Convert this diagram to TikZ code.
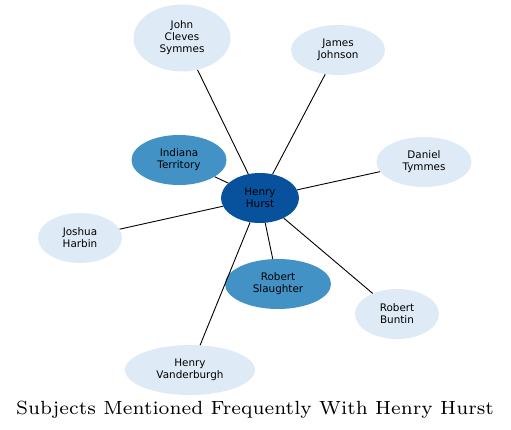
\documentclass[tikz,border=0pt]{standalone}
\usepackage{fontspec}
\newfontfamily\dejavu{DejaVu Sans}
\usetikzlibrary{shapes.geometric}
\definecolor{lightblue}{HTML}{DEEBF7}
\definecolor{midblue}{HTML}{4292C6}
\definecolor{darkblue}{HTML}{08519C}
\tikzset{
  ent/.style={ellipse, inner sep=0pt, align=center, font=\dejavu\fontsize{10.4}{12}\selectfont, text=black},
  light/.style={ent, fill=lightblue},
  mid/.style={ent, fill=midblue},
  dark/.style={ent, fill=darkblue},
  link/.style={draw=black, line width=0.9pt}
}
\begin{document}
\begin{tikzpicture}[x=1pt,y=-1pt]
\useasboundingbox (0,0) rectangle (511,430);
\node[dark, minimum width=78, minimum height=50] (hh) at (260,198) {Henry\\Hurst};
\node[light, minimum width=97, minimum height=67] (jcs) at (182,38) {John\\Cleves\\Symmes};
\node[light, minimum width=94, minimum height=50] (jj) at (338,50) {James\\Johnson};
\node[mid, minimum width=95, minimum height=50] (it) at (179,160) {Indiana\\Territory};
\node[light, minimum width=95, minimum height=50] (dt) at (424,162) {Daniel\\Tymmes};
\node[light, minimum width=84, minimum height=50] (jh) at (80,238) {Joshua\\Harbin};
\node[mid, minimum width=106, minimum height=50] (rs) at (278,284) {Robert\\Slaughter};
\node[light, minimum width=84, minimum height=50] (rb) at (397,314) {Robert\\Buntin};
\node[light, minimum width=130, minimum height=50] (hv) at (190,370) {Henry\\Vanderburgh};
\foreach \t in {jcs,jj,it,dt,jh,rs,rb,hv} \draw[link] (hh) -- (\t);
\node[inner sep=0pt] (title) at (255,409.5) {\resizebox{478pt}{!}{\fontsize{7}{8}\selectfont Subjects Mentioned Frequently With Henry Hurst}};
\end{tikzpicture}
\end{document}
